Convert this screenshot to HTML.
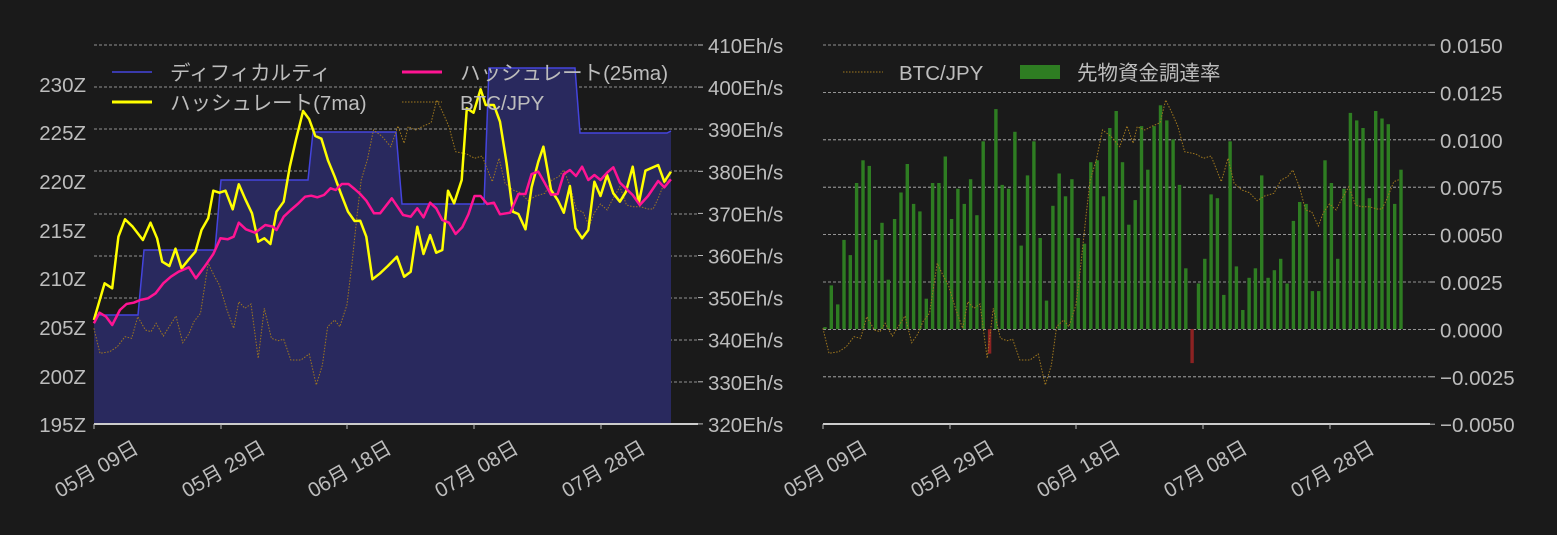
<!DOCTYPE html>
<html><head><meta charset="utf-8"><style>
html,body{margin:0;padding:0;background:#1a1a1a;}
svg{display:block}
text{font-family:"Liberation Sans","Noto Sans CJK JP",sans-serif;fill:#bdbdbd;font-size:20.5px}
</style></head><body>
<svg id="s" width="1557" height="535" xmlns="http://www.w3.org/2000/svg">
<rect width="1557" height="535" fill="#1a1a1a"/>
<g id="g"></g>
</svg>
<script>
const g=document.getElementById('g');let h='';
[45,87,129,171,214,256,298,340,382].forEach(y=>{h+=`<line x1="94" x2="698" y1="${y}" y2="${y}" stroke="#bbb" stroke-width="0.8" stroke-dasharray="3,2"/>`;});
const d=[[94,315],[138,315],[144,250],[215,250],[221,180],[308,180],[313,132],[396,132],[402,204],[484,204],[489,68],[575,68],[580,133],[667,133],[671,131]];
let dp=d.map(p=>p.join(',')).join(' L');
h+=`<path d="M94,424 L${dp} L671,424 Z" fill="#29295e"/>`;
h+=`<path d="M${dp}" fill="none" stroke="#4444dd" stroke-width="1.5"/>`;
function pl(arr,fx,fy,ox,oy){return arr.map((p,i)=>(i?'L':'M')+(p[0]/fx+ox).toFixed(1)+','+(p[1]/fy+oy).toFixed(1)).join(' ');}
const btc=[[184,895],[196,970],[215,965],[230,950],[245,920],[258,925],[270,860],[285,900],[296,905],[306,880],[320,918],[345,858],[358,938],[370,912],[380,875],[393,850],[408,700],[420,738],[430,765],[445,840],[458,895],[468,815],[480,835],[492,822],[506,985],[518,835],[532,925],[545,932],[556,928],[570,990],[590,990],[606,972],[620,1065],[632,1005],[642,890],[656,870],[666,890],[680,825],[690,700],[700,555],[708,450],[720,390],[732,300],[748,318],[766,350],[780,288],[792,340],[800,290],[815,300],[830,288],[845,278],[856,210],[868,248],[880,290],[893,365],[915,372],[930,385],[945,378],[965,455],[978,385],[990,460],[1005,480],[1020,488],[1035,512],[1050,498],[1068,490],[1082,450],[1095,440],[1105,420],[1118,470],[1130,540],[1142,545],[1155,588],[1165,548],[1177,522],[1190,540],[1200,510],[1215,470],[1228,525],[1240,530],[1255,530],[1270,537],[1280,537],[1290,505],[1303,455],[1315,448]];
h+=`<path d="${pl(btc,1.96,3,0,30)}" fill="none" stroke="#a0781e" stroke-width="1" stroke-dasharray="1.5,1.5"/>`;
const pink=[[184,880],[195,848],[208,860],[220,885],[235,840],[248,822],[262,818],[275,810],[290,805],[305,790],[320,760],[335,740],[350,725],[370,712],[384,745],[400,712],[418,672],[432,625],[446,628],[458,620],[468,578],[482,598],[500,608],[520,585],[535,590],[542,600],[556,560],[570,540],[585,520],[598,500],[610,497],[622,502],[635,495],[648,475],[658,480],[670,462],[683,462],[695,477],[706,492],[718,512],[733,550],[745,550],[768,505],[790,555],[805,560],[818,535],[830,562],[843,518],[855,535],[867,570],[880,578],[893,612],[906,592],[918,553],[930,498],[942,498],[955,522],[968,518],[980,553],[1000,548],[1016,492],[1030,492],[1042,432],[1055,425],[1068,460],[1080,494],[1093,492],[1105,432],[1117,420],[1129,438],[1141,410],[1153,450],[1165,435],[1177,450],[1190,428],[1202,412],[1215,458],[1240,495],[1254,525],[1270,498],[1290,453],[1302,472],[1315,448]];
const yel=[[184,870],[205,760],[220,775],[232,620],[245,568],[260,590],[280,630],[295,578],[308,625],[318,695],[332,708],[344,656],[356,715],[370,688],[383,665],[395,600],[408,565],[418,482],[430,488],[442,482],[456,538],[468,463],[480,505],[494,550],[506,635],[518,625],[530,642],[542,545],[556,515],[568,410],[580,330],[594,243],[606,268],[618,318],[630,326],[643,392],[656,440],[668,490],[682,545],[695,573],[706,572],[718,620],[730,748],[745,730],[760,708],[778,680],[792,740],[805,725],[818,590],[830,672],[843,615],[855,668],[867,660],[878,482],[890,520],[905,450],[915,235],[928,248],[942,178],[952,225],[968,225],[980,275],[993,400],[1005,545],[1016,552],[1030,598],[1042,472],[1055,395],[1065,350],[1080,480],[1093,510],[1105,548],[1117,468],[1128,595],[1141,625],[1153,600],[1165,455],[1177,498],[1190,435],[1202,490],[1215,515],[1227,485],[1240,410],[1252,520],[1265,422],[1290,405],[1302,455],[1315,425]];
h+=`<path d="${pl(yel,1.96,3,0,30)}" fill="none" stroke="#ffff00" stroke-width="2.5" stroke-linejoin="round"/>`;
h+=`<path d="${pl(pink,1.96,3,0,30)}" fill="none" stroke="#ff1493" stroke-width="2.5" stroke-linejoin="round"/>`;
h+=`<line x1="94" x2="698" y1="424" y2="424" stroke="#ccc" stroke-width="2"/>`;
[[230,84],[225,132],[220,181],[215,230],[210,278],[205,327],[200,376],[195,424]].forEach(a=>{h+=`<text x="86" y="${a[1]+8}" text-anchor="end">${a[0]}Z</text>`;});
[410,400,390,380,370,360,350,340,330,320].forEach((v,i)=>{let y=45+i*42.1;h+=`<line x1="698" x2="703" y1="${y}" y2="${y}" stroke="#bbb"/><text x="708" y="${y+8}">${v}Eh/s</text>`;});
const labs=['05月 09日','05月 29日','06月 18日','07月 08日','07月 28日'];
[94,221,347,474,601].forEach((x,i)=>{h+=`<line x1="${x}" x2="${x}" y1="424" y2="429" stroke="#bbb"/><text x="${x+46}" y="452" text-anchor="end" transform="rotate(-30 ${x+46} 452)">${labs[i]}</text>`;});
h+=`<line x1="112" x2="152" y1="72" y2="72" stroke="#4444dd" stroke-width="1.5"/><text x="170" y="80">ディフィカルティ</text>`;
h+=`<line x1="402" x2="442" y1="72" y2="72" stroke="#ff1493" stroke-width="3"/><text x="460" y="80">ハッシュレート(25ma)</text>`;
h+=`<line x1="112" x2="152" y1="102" y2="102" stroke="#ffff00" stroke-width="3"/><text x="170" y="110">ハッシュレート(7ma)</text>`;
h+=`<line x1="402" x2="442" y1="102" y2="102" stroke="#a0781e" stroke-dasharray="1.5,1.5"/><text x="460" y="110">BTC/JPY</text>`;
const vals=[1,23,13,47,39,77,89,86,47,56,26,58,72,87,66,62,16,77,77,91,58,74,66,79,60,99,-13,116,76,74,104,44,81,99,48,15,65,82,70,79,48,45,88,89,70,106,115,88,55,68,107,84,107,118,110,100,76,32,-18,24,37,71,69,18,99,33,10,27,32,81,27,31,37,24,57,67,66,20,20,89,77,37,74,114,110,106,69,115,111,108,66,84];
for(let i=0;i<=7;i++){let y=45+i*47.4;h+=`<line x1="823" x2="1430" y1="${y}" y2="${y}" stroke="#bbb" stroke-width="0.8" stroke-dasharray="3,2"/>`;}
const n=vals.length;
vals.forEach((v,i)=>{let x=825+i*(1401-825)/(n-1);let y0=329,y=329-v*1e-4/0.0025*47.4;
h+=`<rect x="${(x-1.7).toFixed(1)}" width="3.4" y="${Math.min(y,y0).toFixed(1)}" height="${Math.abs(y-y0).toFixed(1)}" fill="${v<0?'#8b2222':'#2e7d22'}"/>`;});
h+=`<path d="${pl(btc,1.96,3,729,30)}" fill="none" stroke="#a0781e" stroke-width="1" stroke-dasharray="1.5,1.5"/>`;
h+=`<line x1="823" x2="1430" y1="424" y2="424" stroke="#ccc" stroke-width="2"/>`;
['0.0150','0.0125','0.0100','0.0075','0.0050','0.0025','0.0000','−0.0025','−0.0050'].forEach((t,i)=>{let y=45+i*47.4;h+=`<line x1="1430" x2="1435" y1="${y}" y2="${y}" stroke="#bbb"/><text x="1440" y="${y+8}">${t}</text>`;});
[823,950,1076,1203,1330].forEach((x,i)=>{h+=`<line x1="${x}" x2="${x}" y1="424" y2="429" stroke="#bbb"/><text x="${x+46}" y="452" text-anchor="end" transform="rotate(-30 ${x+46} 452)">${labs[i]}</text>`;});
h+=`<line x1="843" x2="883" y1="72" y2="72" stroke="#a0781e" stroke-dasharray="1.5,1.5"/><text x="899" y="80">BTC/JPY</text>`;
h+=`<rect x="1020" y="65" width="40" height="14" fill="#2e7d22"/><text x="1077" y="80">先物資金調達率</text>`;
g.innerHTML=h;
</script>
</body></html>
